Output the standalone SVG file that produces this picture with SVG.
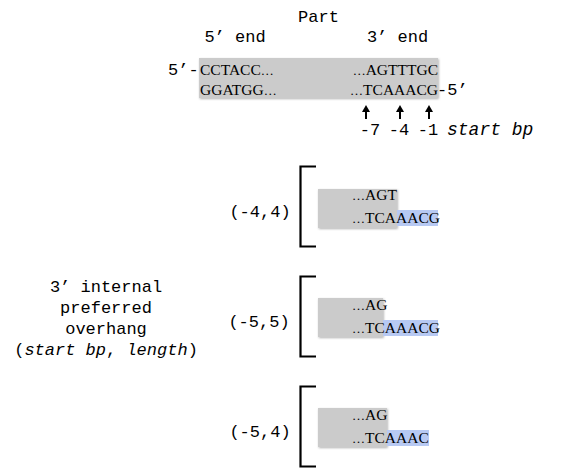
<svg xmlns="http://www.w3.org/2000/svg" width="580" height="475" viewBox="0 0 580 475">
<defs>
<style>
.mono{font-family:"Liberation Mono","Courier New",monospace;font-size:17px;fill:#000}
.ser{font-family:"Liberation Serif","Times New Roman",serif;font-size:15.5px;fill:#000}
.el{font-size:13px}
.it{font-style:italic}
.gray{fill:#cbcbcb}
.blue{fill:#b7c9f3}
.br{fill:none;stroke:#000;stroke-width:2.2}
.arr{stroke:#000;stroke-width:2;fill:none}
.head{fill:#000}
</style>
<filter id="sh" x="-5%" y="-5%" width="115%" height="120%">
<feDropShadow dx="0.8" dy="1" stdDeviation="0.8" flood-color="#000" flood-opacity="0.3"/>
</filter>
</defs>
<rect width="580" height="475" fill="#fff"/>

<g id="part">
<text class="mono" x="318.5" y="22" text-anchor="middle">Part</text>
<text class="mono" x="235" y="42" text-anchor="middle">5’ end</text>
<text class="mono" x="397.5" y="42" text-anchor="middle">3’ end</text>
<rect class="gray" x="199" y="58" width="239" height="40" filter="url(#sh)"/>
<text class="mono" x="168" y="75">5’-</text>
<text class="ser" x="200" y="75">CCTACC<tspan class="el">…</tspan></text>
<text class="ser" x="438" y="75" text-anchor="end"><tspan class="el">…</tspan>AGTTTGC</text>
<text class="ser" x="200" y="95">GGATGG<tspan class="el">…</tspan></text>
<text class="ser" x="438" y="95" text-anchor="end"><tspan class="el">…</tspan>TCAAACG</text>
<text class="mono" x="437" y="95">-5’</text>
</g>

<g id="connectors">
<line class="arr" x1="366" y1="119" x2="366" y2="111"/>
<path class="head" d="M366,105 L370,112 L362,112 z"/>
<line class="arr" x1="400" y1="119" x2="400" y2="111"/>
<path class="head" d="M400,105 L404,112 L396,112 z"/>
<line class="arr" x1="429" y1="119" x2="429" y2="111"/>
<path class="head" d="M429,105 L433,112 L425,112 z"/>
</g>

<g id="startbp">
<text class="mono" x="370" y="135" text-anchor="middle">-7</text>
<text class="mono" x="399" y="135" text-anchor="middle">-4</text>
<text class="mono" x="428" y="135" text-anchor="middle">-1</text>
<text class="mono it" x="447" y="135" style="font-size:18px">start bp</text>
</g>

<g id="label">
<text class="mono" x="106" y="292" text-anchor="middle">3’ internal</text>
<text class="mono" x="106" y="313" text-anchor="middle">preferred</text>
<text class="mono" x="106" y="334" text-anchor="middle">overhang</text>
<text class="mono" x="106" y="355" text-anchor="middle">(<tspan class="it">start bp</tspan>, <tspan class="it">length</tspan>)</text>
</g>

<g id="oh1">
<text class="mono" x="260" y="217" text-anchor="middle">(-4,4)</text>
<path class="br" d="M316,166.5 H300.5 V246.5 H316"/>
<rect class="gray" x="318" y="189" width="79" height="39" filter="url(#sh)"/>
<rect class="blue" x="397" y="210" width="41" height="16"/>
<text class="ser" x="352" y="200"><tspan class="el">…</tspan>AGT</text>
<text class="ser" x="352" y="223"><tspan class="el">…</tspan>TCAAACG</text>
</g>

<g id="oh2">
<text class="mono" x="259" y="327" text-anchor="middle">(-5,5)</text>
<path class="br" d="M316,276.5 H300.5 V356.5 H316"/>
<rect class="gray" x="318" y="298" width="65" height="39" filter="url(#sh)"/>
<rect class="blue" x="383" y="320" width="55" height="16"/>
<text class="ser" x="352" y="310"><tspan class="el">…</tspan>AG</text>
<text class="ser" x="352" y="333"><tspan class="el">…</tspan>TCAAACG</text>
</g>

<g id="oh3">
<text class="mono" x="260" y="437" text-anchor="middle">(-5,4)</text>
<path class="br" d="M316,386.5 H300.5 V466.5 H316"/>
<rect class="gray" x="318" y="408" width="69" height="39" filter="url(#sh)"/>
<rect class="blue" x="387" y="430" width="42" height="16"/>
<text class="ser" x="352" y="420"><tspan class="el">…</tspan>AG</text>
<text class="ser" x="352" y="443"><tspan class="el">…</tspan>TCAAAC</text>
</g>
</svg>
